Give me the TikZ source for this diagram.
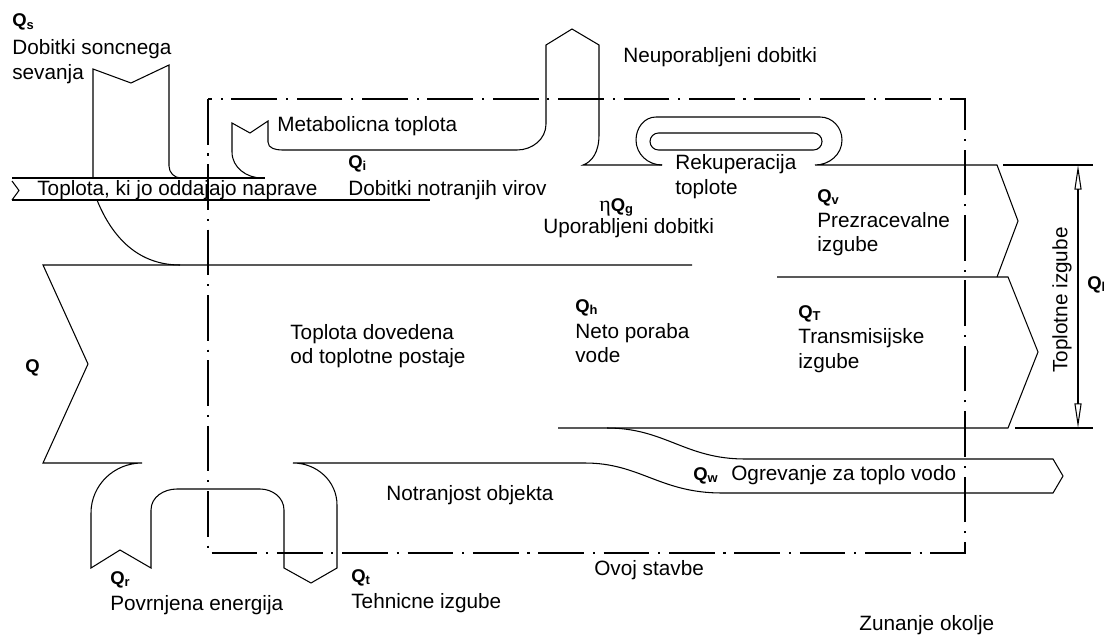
\documentclass[tikz,border=0pt]{standalone}
\usepackage{fontspec}
\setmainfont{Liberation Sans}
\newfontfamily\grserif{Liberation Serif}
\usetikzlibrary{arrows.meta}
\begin{document}
\begin{tikzpicture}[x=0.02cm,y=-0.02cm,
  flow/.style={line width=0.6pt, line join=miter},
  envline/.style={line width=0.6pt, dash pattern=on 26pt off 5pt on 1.2pt off 5pt},
  lbl/.style={anchor=base west, inner sep=0pt, font=\fontsize{11.8}{14}\selectfont},
  qlbl/.style={anchor=base west, inner sep=0pt, font=\fontsize{10.5}{12}\selectfont\bfseries},
  dimtip/.style={{Triangle[open,length=14pt,width=4pt]}-{Triangle[open,length=14pt,width=4pt]}}
]
\useasboundingbox (0,0) rectangle (1104,635);

% solar gains and devices, merging into the supplied heat
\draw[flow] (93,178) -- (93,69) -- (131,83) -- (169,65) -- (169,166) to[out=-90,in=180] (181,178);
\draw[flow] (12,178) -- (265,178);
\draw[flow] (12,181) -- (19,190.5) -- (12,200);
\draw[flow] (12,200) -- (430,200);
\draw[flow] (97,200) to[out=-68,in=180] (180,265);

% metabolic heat, unused gains
\draw[flow] (262,178) to[out=180,in=-90] (232,152) -- (232,123) -- (250,133) -- (268,121) -- (268,142)
  to[out=-90,in=180] (282,150) -- (517,150) to[out=0,in=-90] (546,124) -- (546,45) -- (572,29) -- (599,45)
  -- (599,135) .. controls (599,152) and (592,162) .. (583,165) -- (662,165);

% heat recuperation and ventilation losses
\draw[flow] (662,165) to[out=180,in=-90] (636,140) to[out=90,in=180] (656,117) -- (820,117)
  to[out=0,in=90] (842,140) to[out=-90,in=0] (815,165) -- (997,165) -- (1018,221) -- (997,277);
\draw[flow, rounded corners=0.17cm] (650,133) rectangle (822,150);

% transmission losses
\draw[flow] (777,277) -- (1008,277) -- (1038,352) -- (1008,428) -- (558,428);

% main supplied heat, returned energy, technical losses, hot water
\draw[flow] (692,265) -- (43,265) -- (88,364) -- (43,463) -- (142,463) to[out=180,in=90] (91,513)
  -- (91,568) -- (120,550) -- (151,568) -- (151,510) to[out=90,in=180] (177,489) -- (260,489)
  to[out=0,in=90] (284,510) -- (284,568) -- (311,583) -- (337,568) -- (337,505) to[out=90,in=0] (293,463)
  -- (585,463) .. controls (640,463) and (660,493) .. (722,493) -- (1053,493) -- (1063,476) -- (1053,459)
  -- (745,459) .. controls (685,459) and (665,428) .. (607,428);

% building envelope
\draw[envline] (208,99) rectangle (965,553);

% dimension of heat losses
\coordinate (dtop) at (1078,165);
\coordinate (dbot) at (1078,428);
\draw[flow] (1003,165) -- (1093,165);
\draw[flow] (1015,428) -- (1093,428);
\draw[flow, dimtip] (dtop) -- (dbot);

% labels
\node[qlbl] (qs) at (12,27) {Q\textsubscript{s}};
\node[lbl] (qsa) at (12,55) {Dobitki soncnega};
\node[lbl] (qsb) at (12,80) {sevanja};
\node[lbl] (met) at (277,132) {Metabolicna toplota};
\node[qlbl] (qi) at (348,168) {Q\textsubscript{i}};
\node[lbl] (qia) at (348,195) {Dobitki notranjih virov};
\node[lbl] (dev) at (37,195) {Toplota, ki jo oddajajo naprave};
\node[lbl] (unused) at (623,63) {Neuporabljeni dobitki};
\node[lbl] (rek) at (675,169) {Rekuperacija};
\node[lbl] (rekb) at (675,194) {toplote};
\node[qlbl] (qg) at (599,211) {{\grserif\mdseries\fontsize{12.5}{14}\selectfont η}Q\textsubscript{g}};
\node[lbl] (used) at (543,233) {Uporabljeni dobitki};
\node[qlbl] (qv) at (817,202) {Q\textsubscript{v}};
\node[lbl] (qva) at (817,227) {Prezracevalne};
\node[lbl] (qvb) at (817,251) {izgube};
\node[qlbl] (qTT) at (798,318) {Q\textsubscript{T}};
\node[lbl] (qTa) at (798,343) {Transmisijske};
\node[lbl] (qTb) at (798,368) {izgube};
\node[qlbl] (qh) at (575,312) {Q\textsubscript{h}};
\node[lbl] (qha) at (575,338) {Neto poraba};
\node[lbl] (qhb) at (575,362) {vode};
\node[lbl] (supa) at (290,339) {Toplota dovedena};
\node[lbl] (supb) at (290,363) {od toplotne postaje};
\node[qlbl] (qq) at (25,372) {Q};
\node[lbl] (inside) at (386,500) {Notranjost objekta};
\node[qlbl] (qr) at (110,584) {Q\textsubscript{r}};
\node[lbl] (qra) at (110,610) {Povrnjena energija};
\node[qlbl] (qt) at (351,582) {Q\textsubscript{t}};
\node[lbl] (qta) at (351,608) {Tehnicne izgube};
\node[qlbl] (qw) at (693,480) {Q\textsubscript{w}};
\node[lbl] (qwa) at (731,480) {Ogrevanje za toplo vodo};
\node[lbl] (envlbl) at (594,575) {Ovoj stavbe};
\node[lbl] (outside) at (859,630) {Zunanje okolje};
\node[lbl, rotate=90, anchor=center] (loss) at (1062,300) {Toplotne izgube};
\node[qlbl] (ql) at (1087,289) {Q\textsubscript{l}};
\end{tikzpicture}
\end{document}
